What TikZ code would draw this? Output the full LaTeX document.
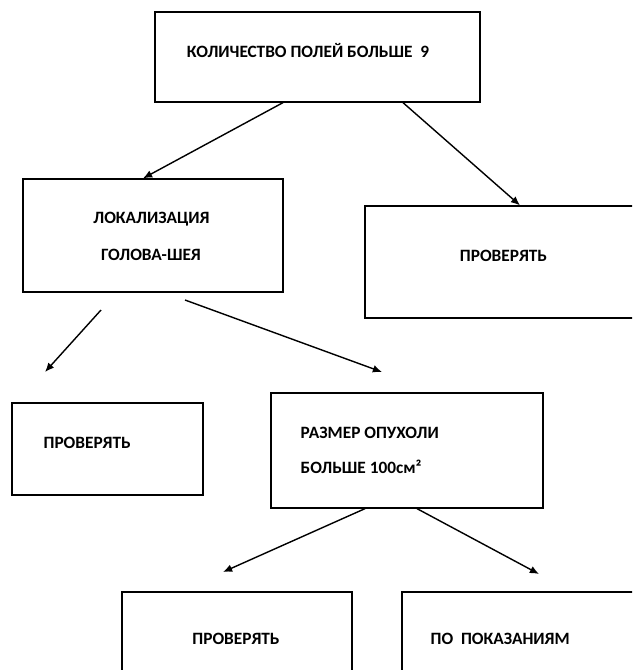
\documentclass[tikz,border=0pt]{standalone}
\usepackage{fontspec}
\setmainfont{Carlito}
\usetikzlibrary{arrows.meta, calc}

\begin{document}
\begin{tikzpicture}[x=0.025cm, y=-0.025cm, line width=0.9pt,
    box/.style={draw, rectangle, inner sep=0pt},
    txt/.style={font=\bfseries\fontsize{12.3}{14}\selectfont, inner sep=0pt},
    arr/.style={line width=1pt, -{Latex[length=6.5pt, width=5.5pt]}}]

    \def\pxu{0.025cm}   % one pixel of the sketch

    \useasboundingbox (0,0) rectangle (632,670);
    \clip (0,0) rectangle (632,670);

    % Boxes
    \node[box, minimum width=325*\pxu, minimum height=90*\pxu]  (fields) at (317.5,57)  {};
    \node[box, minimum width=260*\pxu, minimum height=113*\pxu] (loc)    at (153,235.5) {};
    \node[box, minimum width=280*\pxu, minimum height=112*\pxu] (chkA)   at (505,262)   {};
    \node[box, minimum width=191*\pxu, minimum height=92*\pxu]  (chkB)   at (107.5,449) {};
    \node[box, minimum width=272*\pxu, minimum height=115*\pxu] (size)   at (407,450.5) {};
    \node[box, minimum width=230*\pxu, minimum height=120*\pxu] (chkC)   at (237,652)   {};
    \node[box, minimum width=260*\pxu, minimum height=120*\pxu] (ind)    at (532,652)   {};

    % Texts
    \node[txt, anchor=base] (tfields) at (308,57.5) {КОЛИЧЕСТВО ПОЛЕЙ БОЛЬШЕ \ 9};
    \node[txt, anchor=base] (tloc1)   at (151.5,223.5) {ЛОКАЛИЗАЦИЯ};
    \node[txt, anchor=base] (tloc2)   at (151,260.5) {ГОЛОВА-ШЕЯ};
    \node[txt, anchor=base] (tchkA)   at (503.5,261.5) {ПРОВЕРЯТЬ};
    \node[txt, anchor=base west] (tchkB) at (43,448.5) {ПРОВЕРЯТЬ};
    \node[txt, anchor=base west] (tsize1) at (300,438.5) {РАЗМЕР ОПУХОЛИ};
    \node[txt, anchor=base west] (tsize2) at (300,473.5) {БОЛЬШЕ 100см²};
    \node[txt, anchor=base] (tchkC)   at (236,644.5) {ПРОВЕРЯТЬ};
    \node[txt, anchor=base west] (tind) at (430,644.5) {ПО \ ПОКАЗАНИЯМ};

    % Free ends of the arrows
    \coordinate (locL)  at (101,310);
    \coordinate (locR)  at (185,300);
    \coordinate (endB)  at (45,372);
    \coordinate (endS)  at (382,372);
    \coordinate (endC)  at (223,572);
    \coordinate (endI)  at (539,574);

    % Arrows
    \draw[arr] ($(fields.south)+(-34.5,0)$) -- ($(loc.north)+(-10,0)$);
    \draw[arr] ($(fields.south)+(85.5,0)$) -- ($(chkA.north)+(15,0)$);
    \draw[arr] (locL) -- (endB);
    \draw[arr] (locR) -- (endS);
    \draw[arr] ($(size.south)+(-42,0)$) -- (endC);
    \draw[arr] ($(size.south)+(10,0)$) -- (endI);

\end{tikzpicture}
\end{document}
